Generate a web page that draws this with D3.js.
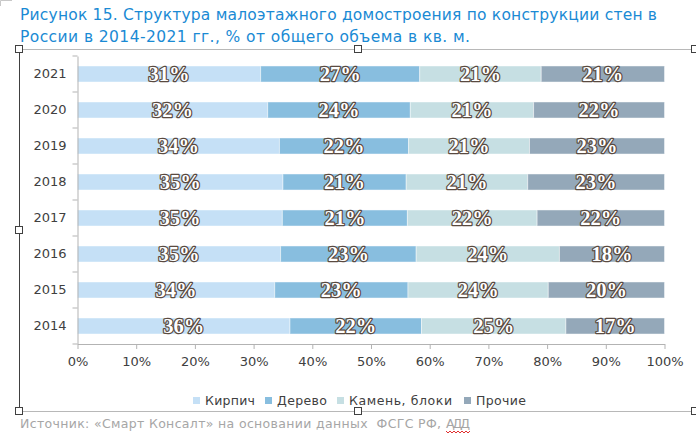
<!DOCTYPE html>
<html>
<head>
<meta charset="utf-8">
<script src="https://cdn.jsdelivr.net/npm/d3@7"></script>
<style>
  body { margin: 0; background: #fff; }
  svg { display: block; }
</style>
</head>
<body>
<svg id="chart" width="696" height="436"></svg>
<script>
// data (2014 .. 2021)
const years = ["2014", "2015", "2016", "2017", "2018", "2019", "2020", "2021"];
const series = ["Кирпич", "Дерево", "Камень, блоки", "Прочие"];
const brick = [36.2, 33.6, 34.6, 34.9, 35.0, 34.4, 32.4, 31.2];
const wood  = [22.4, 22.7, 23.1, 21.3, 21.0, 22.0, 24.3, 27.1];
const stone = [24.6, 23.9, 24.4, 22.1, 20.7, 20.6, 21.0, 20.7];
const other = [16.8, 19.8, 17.9, 21.7, 23.3, 23.0, 22.3, 21.0];
const xTicks = [0, 10, 20, 30, 40, 50, 60, 70, 80, 90, 100];
const colors = ["#c5e0f6", "#88bedf", "#c6dfe3", "#94a8b9"];

const titleLines = [
  "Рисунок 15. Структура малоэтажного домостроения по конструкции стен в",
  "России в 2014-2021 гг., % от общего объема в кв. м."
];
const sourceText = "Источник: «Смарт Консалт» на основании данных  ФСГС РФ,";
const sourceTail = "АДД";

const svg = d3.select("#chart");

const rows = years.map((y, i) => ({
  year: y,
  "Кирпич": brick[i],
  "Дерево": wood[i],
  "Камень, блоки": stone[i],
  "Прочие": other[i]
}));

const stacked = d3.stack().keys(series)(rows);

const x = d3.scaleLinear().domain([0, 100]).range([77.5, 664.5]);
const y = d3.scaleBand().domain(years.slice().reverse()).range([56, 344]).paddingInner(0.555).paddingOuter(0.2775);

// title (Word's text is a bit wider than DejaVu, so the widths are pinned)
const titleWidths = [637, 450];
svg.append("g").selectAll("text")
  .data(titleLines).enter()
  .append("text")
  .attr("x", 20)
  .attr("y", (d, i) => 19.5 + i * 22.8)
  .attr("fill", "#1a8ad4")
  .attr("textLength", (d, i) => titleWidths[i])
  .attr("lengthAdjust", "spacing")
  .style("font-family", "'DejaVu Sans'")
  .style("font-size", "15.5px")
  .text(d => d);

// frame and handles
const frame = svg.append("g");
frame.append("line").attr("x1", 19).attr("x2", 696).attr("y1", 49.5).attr("y2", 49.5)
  .attr("stroke", "#b8b8b8").attr("stroke-width", 1);
frame.append("line").attr("x1", 19).attr("x2", 696).attr("y1", 411.5).attr("y2", 411.5)
  .attr("stroke", "#b8b8b8").attr("stroke-width", 1);
frame.append("line").attr("x1", 19.5).attr("x2", 19.5).attr("y1", 50).attr("y2", 412)
  .attr("stroke", "#404040").attr("stroke-width", 1);
frame.append("path").attr("d", "M0.5,6 V0.5 H12").attr("fill", "none").attr("stroke", "#c8c8c8");
const handles = [[19, 49], [358, 49], [695, 49], [19, 230], [19, 411], [358, 411], [695, 411]];
frame.selectAll("rect.handle")
  .data(handles).enter()
  .append("rect")
  .attr("class", "handle")
  .attr("x", d => d[0] - 3.5)
  .attr("y", d => d[1] - 3.5)
  .attr("width", 7).attr("height", 7)
  .attr("fill", "#fff").attr("stroke", "#404040").attr("stroke-width", 1);

// bars
const plot = svg.append("g");
plot.selectAll("g.series")
  .data(stacked).enter()
  .append("g")
  .attr("class", "series")
  .attr("fill", (d, i) => colors[i])
  .selectAll("rect")
  .data(d => d).enter()
  .append("rect")
  .attr("x", d => x(d[0]))
  .attr("y", d => y(d.data.year))
  .attr("width", d => x(d[1]) - x(d[0]))
  .attr("height", y.bandwidth())
  .attr("stroke", "#ffffff")
  .attr("stroke-opacity", 0.45)
  .attr("stroke-width", 1);

// axes
const yAxis = d3.axisLeft(y).tickSize(0).tickPadding(11);
const gy = svg.append("g").attr("transform", "translate(77.5,0)").call(yAxis);
gy.select(".domain").attr("stroke", "#b3b3b3");
gy.selectAll("text")
  .attr("fill", "#404040")
  .style("font-family", "'DejaVu Sans'")
  .style("font-size", "13px");
// category separators on the y axis
const sep = d3.range(years.length + 1).map(i => 56 + i * 36);
gy.selectAll("line.sep")
  .data(sep).enter()
  .append("line")
  .attr("class", "sep")
  .attr("x1", -5).attr("x2", 0)
  .attr("y1", d => d).attr("y2", d => d)
  .attr("stroke", "#b3b3b3");

const xAxis = d3.axisBottom(x).tickValues(xTicks).tickFormat(d => d + "%").tickSize(5).tickSizeOuter(0).tickPadding(8);
const gx = svg.append("g").attr("transform", "translate(0,344)").call(xAxis);
gx.select(".domain").attr("stroke", "#b3b3b3");
gx.selectAll(".tick line").attr("stroke", "#b3b3b3");
gx.selectAll("text")
  .attr("fill", "#404040")
  .style("font-family", "'DejaVu Sans'")
  .style("font-size", "13px");

// data labels
const labels = svg.append("g");
stacked.forEach(s => {
  labels.selectAll(null)
    .data(s).enter()
    .append("text")
    .attr("x", d => (x(d[0]) + x(d[1])) / 2)
    .attr("y", d => y(d.data.year) + y.bandwidth() / 2)
    .attr("dy", "0.34em")
    .attr("text-anchor", "middle")
    .attr("fill", "#ffffff")
    .attr("stroke", "#5a4a40")
    .attr("stroke-width", 2.4)
    .attr("stroke-linejoin", "round")
    .attr("paint-order", "stroke")
    .style("font-family", "'Liberation Serif'")
    .style("font-weight", "bold")
    .style("font-size", "20.5px")
    .text(d => Math.round(d[1] - d[0]) + "%");
});

// legend
const legendX = [193, 265, 337, 464];
const legendW = [50, 50, 103, 50];
const legend = svg.append("g").attr("transform", "translate(0,400.5)");
const li = legend.selectAll("g")
  .data(series).enter()
  .append("g")
  .attr("transform", (d, i) => "translate(" + legendX[i] + ",0)");
li.append("rect")
  .attr("x", 0).attr("y", -3.5)
  .attr("width", 7).attr("height", 7)
  .attr("fill", (d, i) => colors[i]);
li.append("text")
  .attr("x", 12)
  .attr("dy", "0.36em")
  .attr("fill", "#404040")
  .attr("textLength", (d, i) => legendW[i])
  .attr("lengthAdjust", "spacing")
  .style("font-family", "'DejaVu Sans'")
  .style("font-size", "12.5px")
  .text(d => d);

// source note
svg.append("text")
  .attr("x", 20)
  .attr("y", 428)
  .attr("fill", "#a6a6a6")
  .attr("textLength", 421)
  .attr("lengthAdjust", "spacing")
  .style("font-family", "'DejaVu Sans'")
  .style("font-size", "12.5px")
  .style("white-space", "pre")
  .text(sourceText);
svg.append("text")
  .attr("x", 446)
  .attr("y", 428)
  .attr("fill", "#a6a6a6")
  .attr("textLength", 24)
  .style("font-family", "'DejaVu Sans'")
  .style("font-size", "12.5px")
  .text(sourceTail);

// red squiggle under the last word, like the spell checker draws it
const wx0 = 446, wx1 = 470;
let wave = "M" + wx0 + ",431";
for (let k = 0, px = wx0; px < wx1; k++) {
  px += 2;
  wave += " L" + px + "," + (k % 2 ? 431 : 433);
}
svg.append("path").attr("d", wave).attr("fill", "none").attr("stroke", "#e03030").attr("stroke-width", 1);
</script>
</body>
</html>
